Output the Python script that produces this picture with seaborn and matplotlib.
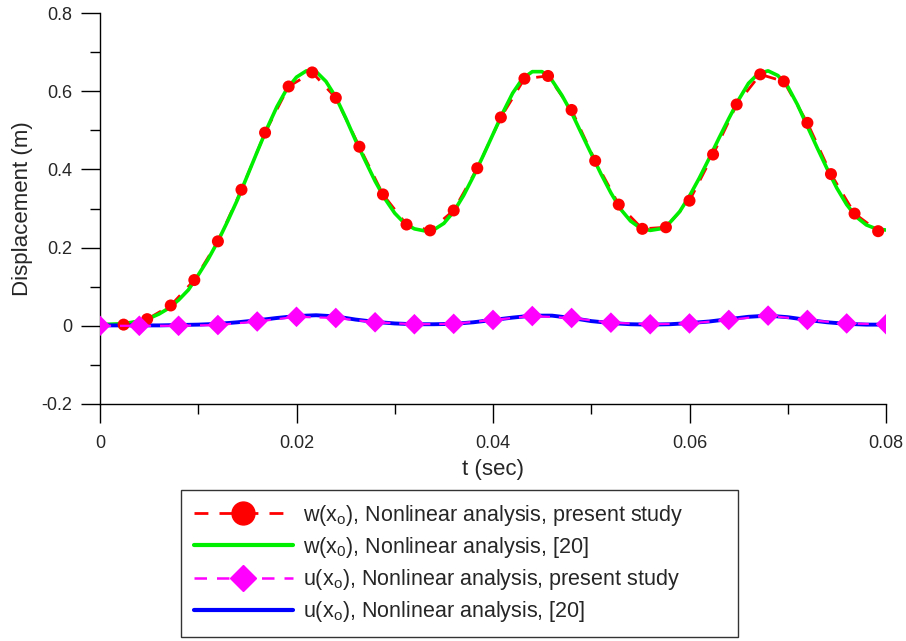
import numpy as np
import pandas as pd
import matplotlib
matplotlib.use("Agg")
import matplotlib.pyplot as plt
from matplotlib.lines import Line2D
from matplotlib.ticker import MultipleLocator, FuncFormatter
import seaborn as sns

# ---- data ----
t_w_present = [0.0024 * k for k in range(34)]
w_present = [0.000, 0.003, 0.017, 0.052, 0.117, 0.216, 0.348, 0.494, 0.612, 0.648,
             0.583, 0.458, 0.336, 0.259, 0.244, 0.295, 0.403, 0.533, 0.632, 0.639,
             0.552, 0.422, 0.310, 0.248, 0.252, 0.320, 0.438, 0.566, 0.643, 0.625,
             0.519, 0.388, 0.287, 0.242]

t_w_ref = [0.001 * k for k in range(81)]
w_ref = [0.004, 0.004, 0.005, 0.008, 0.012, 0.019, 0.030, 0.045, 0.066, 0.092,
         0.130, 0.170, 0.216, 0.268, 0.323, 0.384, 0.445, 0.505, 0.560, 0.605,
         0.636, 0.652, 0.650, 0.625, 0.585, 0.532, 0.475, 0.422, 0.370, 0.325,
         0.288, 0.262, 0.248, 0.243, 0.246, 0.262, 0.292, 0.333, 0.382, 0.435,
         0.490, 0.545, 0.595, 0.632, 0.650, 0.650, 0.628, 0.590, 0.545, 0.492,
         0.440, 0.388, 0.340, 0.298, 0.268, 0.250, 0.244, 0.248, 0.264, 0.292,
         0.332, 0.378, 0.428, 0.480, 0.530, 0.578, 0.620, 0.645, 0.652, 0.640,
         0.612, 0.565, 0.510, 0.455, 0.402, 0.352, 0.310, 0.278, 0.258, 0.248,
         0.245]

t_u_present = [0.004 * k for k in range(21)]
u_present = [0.000, 0.000, 0.000, 0.002, 0.011, 0.023, 0.020, 0.009, 0.004, 0.005,
             0.015, 0.025, 0.020, 0.008, 0.004, 0.006, 0.015, 0.026, 0.015, 0.006,
             0.004]

t_u_ref = [0.002 * k for k in range(41)]
u_ref = [0.001, 0.001, 0.001, 0.001, 0.002, 0.003, 0.005, 0.009, 0.014, 0.020,
         0.025, 0.027, 0.024, 0.016, 0.010, 0.006, 0.004, 0.004, 0.005, 0.009,
         0.015, 0.021, 0.026, 0.026, 0.020, 0.012, 0.007, 0.004, 0.003, 0.004,
         0.007, 0.011, 0.017, 0.023, 0.026, 0.022, 0.015, 0.009, 0.005, 0.003,
         0.003]

labels = [r"w(x$_\mathregular{o}$), Nonlinear analysis, present study",
          r"w(x$_\mathregular{0}$), Nonlinear analysis, [20]",
          r"u(x$_\mathregular{o}$), Nonlinear analysis, present study",
          r"u(x$_\mathregular{o}$), Nonlinear analysis, [20]"]

xticks = [0, 0.02, 0.04, 0.06, 0.08]
yticks = [-0.2, 0, 0.2, 0.4, 0.6, 0.8]

# ---- style ----
sns.set_style("ticks")
plt.rcParams["font.family"] = ["Liberation Sans", "DejaVu Sans"]
plt.rcParams["mathtext.fontset"] = "custom"
plt.rcParams["mathtext.rm"] = "Liberation Sans"

RED, GREEN, MAG, BLUE = "#ff0000", "#00ee00", "#ff00ff", "#0000ff"

fig = plt.figure(figsize=(9.06, 6.41), dpi=100)
ax = fig.add_axes([100 / 906, 1 - 404 / 641, 786 / 906, 391 / 641])

df_wp = pd.DataFrame({"t": t_w_present, "v": w_present})
df_wr = pd.DataFrame({"t": t_w_ref, "v": w_ref})
df_up = pd.DataFrame({"t": t_u_present, "v": u_present})
df_ur = pd.DataFrame({"t": t_u_ref, "v": u_ref})

# w present: dashed red line below green, markers on top
sns.lineplot(data=df_wp, x="t", y="v", ax=ax, color=RED, lw=2.0,
             linestyle=(0, (5, 4)), zorder=2, legend=False)
sns.lineplot(data=df_wr, x="t", y="v", ax=ax, color=GREEN, lw=2.6, zorder=3,
             legend=False)
sns.scatterplot(data=df_wp, x="t", y="v", ax=ax, color=RED, s=75, marker="o",
                edgecolor="none", zorder=4, legend=False)

# u: blue line below, magenta dashed on top, diamonds
sns.lineplot(data=df_ur, x="t", y="v", ax=ax, color=BLUE, lw=2.8, zorder=3,
             legend=False)
sns.lineplot(data=df_up, x="t", y="v", ax=ax, color=MAG, lw=1.6,
             linestyle=(0, (5, 4)), zorder=4, legend=False)
sns.scatterplot(data=df_up, x="t", y="v", ax=ax, color=MAG, s=110, marker="D",
                edgecolor="none", zorder=5, legend=False)

ax.set_xlim(0, 0.08)
ax.set_ylim(-0.2, 0.8)
ax.set_xticks(xticks)
ax.set_yticks(yticks)
ax.xaxis.set_minor_locator(MultipleLocator(0.01))
ax.yaxis.set_minor_locator(MultipleLocator(0.1))
fmt = FuncFormatter(lambda v, p: "0" if abs(v) < 1e-9 else f"{v:g}")
ax.xaxis.set_major_formatter(fmt)
ax.yaxis.set_major_formatter(fmt)
ax.tick_params(axis="both", which="major", length=14, width=1.0, color="black",
               labelsize=13)
ax.tick_params(axis="x", which="major", pad=8)
ax.tick_params(axis="y", which="major", pad=6)
ax.tick_params(axis="both", which="minor", length=7, width=1.0, color="black")
for s in ["top", "right"]:
    ax.spines[s].set_visible(False)
for s in ["left", "bottom"]:
    ax.spines[s].set_linewidth(1.0)
    ax.spines[s].set_color("black")

ax.set_xlabel("t (sec)", fontsize=16, labelpad=5)
ax.set_ylabel("Displacement (m)", fontsize=16, labelpad=6)

handles = [
    Line2D([], [], color=RED, lw=2.0, linestyle=(0, (5, 4)), marker="o",
           markersize=16.5, markeredgecolor=RED),
    Line2D([], [], color=GREEN, lw=3.0),
    Line2D([], [], color=MAG, lw=1.8, linestyle=(0, (5, 4)), marker="D",
           markersize=13, markeredgecolor=MAG),
    Line2D([], [], color=BLUE, lw=3.0),
]
leg = fig.legend(handles, labels, loc="upper left", mode="expand",
                 bbox_to_anchor=(181 / 906, 1 - 637 / 641, 557 / 906, 147 / 641),
                 frameon=True, fancybox=False, fontsize=15.5,
                 handlelength=4.6, handletextpad=0.45, labelspacing=0.33,
                 borderpad=0.6, borderaxespad=0)
leg.get_frame().set_edgecolor("black")
leg.get_frame().set_linewidth(1.0)

fig.savefig("out.png", dpi=100)
